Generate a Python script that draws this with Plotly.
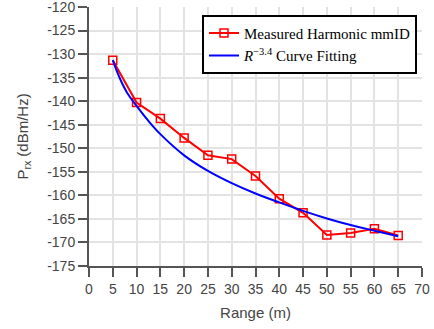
import plotly.graph_objects as go

range_m = [5, 10, 15, 20, 25, 30, 35, 40, 45, 50, 55, 60, 65]
measured = [-131.3, -140.3, -143.7, -147.8, -151.5, -152.3, -155.9, -160.7, -163.7, -168.4, -168.0, -167.1, -168.5]
fit_range = [5, 6, 7, 8, 10, 12.5, 15, 20, 25, 30, 35, 40, 45, 50, 55, 60, 65]
fit_vals = [-131.3, -134.0, -136.3, -138.2, -141.0, -144.2, -147.0, -151.5, -154.8, -157.4, -159.6, -161.5, -163.3, -164.9, -166.3, -167.5, -168.7]

y_ticks = list(range(-175, -119, 5))
y_ticktext = [str(v) for v in y_ticks]
x_ticks = list(range(0, 71, 5))

fig = go.Figure()
fig.add_trace(go.Scatter(
    x=range_m, y=measured, mode="lines+markers",
    name="Measured Harmonic mmID",
    line=dict(color="#ff0000", width=2),
    marker=dict(symbol="square-open", size=8, color="#ff0000", line=dict(width=1.5, color="#ff0000")),
))
fig.add_trace(go.Scatter(
    x=fit_range, y=fit_vals, mode="lines",
    name="<i>R</i><sup>−3.4</sup> Curve Fitting",
    line=dict(color="#0000ff", width=2, shape="spline", smoothing=1.0),
))

axis_common = dict(
    showline=True, linecolor="#555555", linewidth=2,
    ticks="outside", ticklen=9, tickwidth=2, tickcolor="#555555",
    showgrid=True, gridcolor="#e3e3e3", gridwidth=1.5,
    zeroline=False, automargin=False, ticklabeloverflow="allow",
    tickfont=dict(family="Liberation Sans, Arial, sans-serif", size=14, color="#444444"),
    title_font=dict(family="Liberation Sans, Arial, sans-serif", size=15, color="#444444"),
)

fig.update_layout(
    width=434, height=329,
    margin=dict(l=89, r=12, t=7, b=63, autoexpand=False),
    paper_bgcolor="white", plot_bgcolor="white",
    xaxis=dict(range=[0, 70], tickvals=x_ticks, title=dict(text="Range (m)", standoff=12), **axis_common),
    yaxis=dict(range=[-175, -120], tickvals=y_ticks, ticktext=y_ticktext,
               title=dict(text="P<sub>rx</sub> (dBm/Hz)", standoff=15), **axis_common),
    legend=dict(
        x=0.985, y=0.97, xanchor="right", yanchor="top",
        bgcolor="white", bordercolor="#000000", borderwidth=2,
        font=dict(family="Liberation Serif, Times New Roman, serif", size=15, color="#000000"),
        tracegroupgap=0, itemwidth=30,
    ),
    showlegend=True,
)

fig.write_html("out.html", config={"displayModeBar": False},
               post_script="document.body.style.margin='0';document.body.style.padding='0';")
